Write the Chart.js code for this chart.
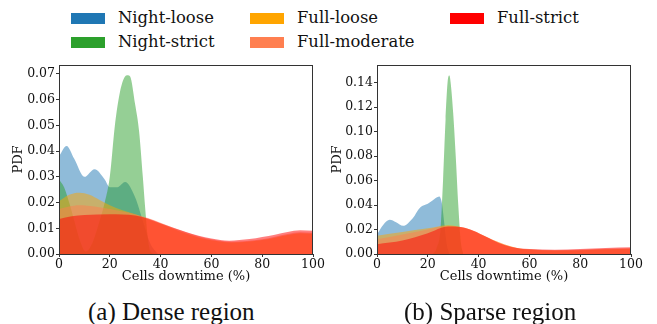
<!DOCTYPE html>
<html>
<head>
<meta charset="utf-8">
<script src="https://cdn.jsdelivr.net/npm/chart.js@4/dist/chart.umd.min.js"></script>
<style>
  body { margin: 0; background: #fff; width: 657px; height: 324px; position: relative; overflow: hidden; }
  .item { position: absolute; white-space: nowrap; font-family: "DejaVu Serif", serif; font-size: 16.4px; line-height: 1; color: #111; }
  .patch { position: absolute; width: 34px; height: 11px; }
  .box { position: absolute; }
  .caption { position: absolute; font-family: "Liberation Serif", "Times New Roman", serif; font-size: 25px; line-height: 1; color: #111; white-space: nowrap; }
</style>
</head>
<body>
<div id="legend"></div>
<div class="box" style="left:0;top:55px;width:330px;height:230px"><canvas id="dense"></canvas></div>
<div class="box" style="left:320px;top:55px;width:337px;height:230px"><canvas id="sparse"></canvas></div>
<div class="caption" style="left:88px;top:299px">(a) Dense region</div>
<div class="caption" style="left:404px;top:299px">(b) Sparse region</div>
<script>
/* Series names and colours */
const seriesNames = ["Night-loose", "Night-strict", "Full-loose", "Full-moderate", "Full-strict"];
const seriesColors = ["#1f77b4", "#2ca02c", "#ffa500", "#ff7f50", "#ff0000"];

/* Dense region (x = cells downtime %, y = PDF) */
const denseNightLooseX = [0, 3, 6, 10, 14, 18, 20, 23, 26, 30, 33, 36, 39];
const denseNightLooseY = [0.038, 0.042, 0.037, 0.030, 0.033, 0.029, 0.026, 0.026, 0.028, 0.022, 0.013, 0.004, 0];
const denseNightStrictX = [0, 2, 4, 6, 8, 10.5, 13, 16, 18, 20, 22, 24, 26, 27, 28, 30, 31.5, 33, 34, 35, 36, 38];
const denseNightStrictY = [0.029, 0.026, 0.020, 0.013, 0.006, 0.001, 0.004, 0.013, 0.020, 0.030, 0.050, 0.063, 0.069, 0.0695, 0.069, 0.058, 0.048, 0.030, 0.017, 0.006, 0.001, 0];
const denseFullLooseX = [0, 4, 8, 12, 16, 20, 25, 30, 35, 40, 50, 60, 68, 80, 90, 95, 100];
const denseFullLooseY = [0.0205, 0.023, 0.0238, 0.023, 0.021, 0.019, 0.017, 0.0155, 0.0135, 0.0118, 0.008, 0.0053, 0.0045, 0.0054, 0.0074, 0.0081, 0.0079];
const denseFullModerateX = [0, 4, 8, 14, 20, 25, 30, 35, 40, 50, 60, 68, 80, 90, 95, 100];
const denseFullModerateY = [0.0175, 0.0185, 0.019, 0.0185, 0.0175, 0.0165, 0.0155, 0.014, 0.0122, 0.0085, 0.0057, 0.0048, 0.0057, 0.0078, 0.0085, 0.0083];
const denseFullStrictX = [0, 5, 10, 20, 30, 35, 40, 50, 60, 67, 75, 85, 95, 100];
const denseFullStrictY = [0.0136, 0.0147, 0.0152, 0.0155, 0.015, 0.0138, 0.012, 0.0086, 0.006, 0.0052, 0.0058, 0.0075, 0.0092, 0.009];

/* Sparse region */
const sparseNightLooseX = [0, 2.5, 5, 7.5, 10.3, 14, 17, 20, 22, 24.5, 25.5, 26.5, 27.5, 28.5];
const sparseNightLooseY = [0.016, 0.024, 0.028, 0.026, 0.023, 0.029, 0.038, 0.041, 0.044, 0.047, 0.042, 0.025, 0.008, 0];
const sparseNightStrictX = [22, 23.5, 25, 26, 27, 28, 28.5, 29, 30, 31, 32, 33, 34];
const sparseNightStrictY = [0, 0.005, 0.02, 0.06, 0.11, 0.144, 0.146, 0.14, 0.115, 0.08, 0.04, 0.01, 0];
const sparseFullLooseX = [0, 10, 20, 28, 35, 40, 45, 50, 55, 60, 70, 80, 90, 100];
const sparseFullLooseY = [0.015, 0.018, 0.021, 0.0235, 0.021, 0.017, 0.012, 0.008, 0.005, 0.0037, 0.0028, 0.003, 0.0038, 0.0043];
const sparseFullModerateX = [0, 10, 20, 28, 35, 40, 45, 50, 55, 60, 70, 80, 90, 100];
const sparseFullModerateY = [0.012, 0.016, 0.020, 0.023, 0.021, 0.017, 0.012, 0.008, 0.005, 0.0038, 0.003, 0.0034, 0.0042, 0.0048];
const sparseFullStrictX = [0, 10, 20, 28, 33, 38, 43, 48, 53, 60, 70, 80, 90, 100];
const sparseFullStrictY = [0.008, 0.011, 0.017, 0.0225, 0.022, 0.019, 0.014, 0.009, 0.0058, 0.004, 0.0035, 0.004, 0.005, 0.0056];

/* Axis ticks */
const xTicks = [0, 20, 40, 60, 80, 100];
const denseYMax = 0.0735;
const denseYStep = 0.01;
const sparseYMax = 0.1545;
const sparseYStep = 0.02;

/* Legend */
const legendPos = [[71, 13], [71, 37], [250, 13], [250, 37], [450, 13]];
const legendEl = document.getElementById("legend");
seriesNames.forEach((name, i) => {
  const [lx, ly] = legendPos[i];
  const patch = document.createElement("div");
  patch.className = "patch";
  patch.style.left = lx + "px";
  patch.style.top = ly + "px";
  patch.style.background = seriesColors[i];
  legendEl.appendChild(patch);
  const label = document.createElement("div");
  label.className = "item";
  label.style.left = (lx + 47) + "px";
  label.style.top = (ly - 3) + "px";
  label.textContent = name;
  legendEl.appendChild(label);
});

function toPoints(xs, ys) {
  return xs.map((x, i) => ({ x: x, y: ys[i] }));
}

function hexAlpha(hex, a) {
  const n = parseInt(hex.slice(1), 16);
  return `rgba(${(n >> 16) & 255}, ${(n >> 8) & 255}, ${n & 255}, ${a})`;
}

const frame = {
  id: "frame",
  afterDraw(chart) {
    const { ctx, chartArea: a } = chart;
    ctx.save();
    ctx.strokeStyle = "#333";
    ctx.lineWidth = 1;
    ctx.strokeRect(a.left + 0.5, a.top + 0.5, a.right - a.left - 1, a.bottom - a.top);
    ctx.restore();
  },
};

function makeChart(id, series, yMax, yStep, yWidth, padRight, titlePad) {
  const tickFont = { family: "DejaVu Serif", size: 12.5 };
  const labelFont = { family: "DejaVu Serif", size: 13 };
  return new Chart(document.getElementById(id), {
    type: "line",
    data: {
      datasets: series.map((s, i) => ({
        label: seriesNames[i],
        data: toPoints(s[0], s[1]),
        backgroundColor: hexAlpha(seriesColors[i], 0.5),
        borderWidth: 0,
        pointRadius: 0,
        fill: "origin",
        cubicInterpolationMode: "monotone",
        order: 5 - i,
      })),
    },
    options: {
      responsive: true,
      maintainAspectRatio: false,
      animation: false,
      layout: { padding: { top: 10, right: padRight, left: 0, bottom: 0 } },
      plugins: { legend: { display: false }, tooltip: { enabled: false } },
      scales: {
        x: {
          type: "linear",
          min: 0,
          max: 100,
          afterBuildTicks: (scale) => { scale.ticks = xTicks.map((v) => ({ value: v })); },
          afterFit: (scale) => { scale.height = 31; },
          ticks: { color: "#111", font: tickFont, padding: 0, maxRotation: 0 },
          grid: { display: true, drawOnChartArea: false, drawTicks: true, tickLength: 3, color: "#333" },
          border: { display: false },
          title: { display: true, text: "Cells downtime (%)", color: "#111", font: labelFont, padding: { top: 0, bottom: 1 } },
        },
        y: {
          min: 0,
          max: yMax,
          afterFit: (scale) => { scale.width = yWidth; },
          ticks: {
            stepSize: yStep,
            includeBounds: false,
            color: "#111",
            font: tickFont,
            padding: 1,
            callback: (v) => v.toFixed(2),
          },
          grid: { display: true, drawOnChartArea: false, drawTicks: true, tickLength: 3, color: "#333" },
          border: { display: false },
          title: { display: true, text: "PDF", color: "#111", font: labelFont, padding: { top: titlePad, bottom: 0 } },
        },
      },
    },
    plugins: [frame],
  });
}

makeChart("dense", [
  [denseNightLooseX, denseNightLooseY],
  [denseNightStrictX, denseNightStrictY],
  [denseFullLooseX, denseFullLooseY],
  [denseFullModerateX, denseFullModerateY],
  [denseFullStrictX, denseFullStrictY],
], denseYMax, denseYStep, 59, 17, 11);

makeChart("sparse", [
  [sparseNightLooseX, sparseNightLooseY],
  [sparseNightStrictX, sparseNightStrictY],
  [sparseFullLooseX, sparseFullLooseY],
  [sparseFullModerateX, sparseFullModerateY],
  [sparseFullStrictX, sparseFullStrictY],
], sparseYMax, sparseYStep, 57, 26, 10);
</script>
</body>
</html>
